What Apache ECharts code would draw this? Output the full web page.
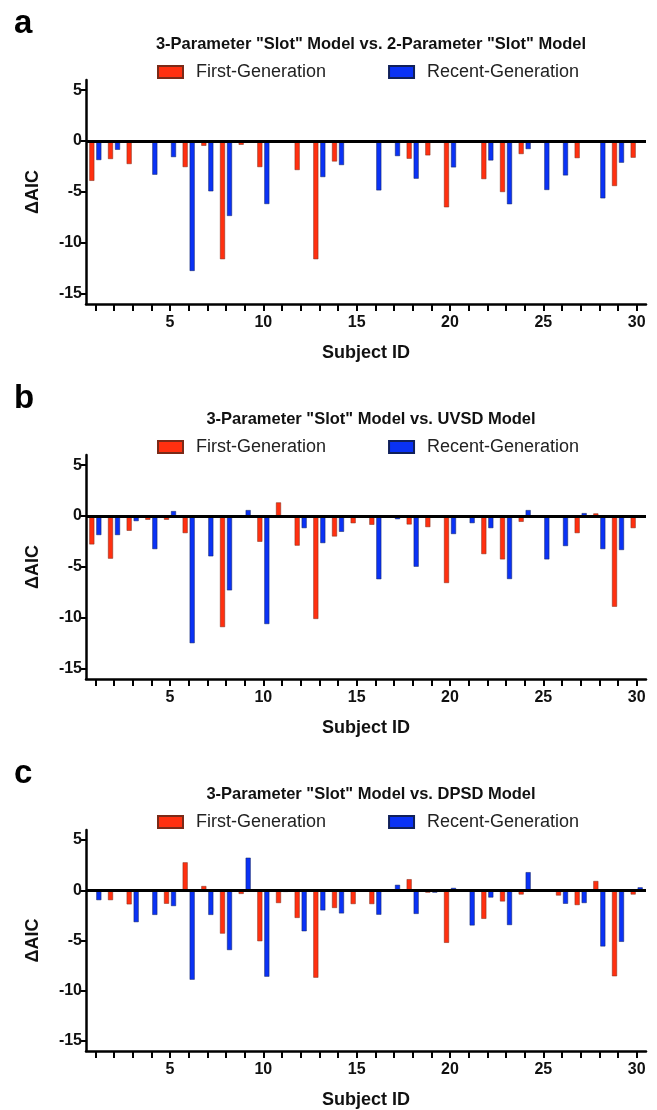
<!DOCTYPE html>
<html>
<head>
<meta charset="utf-8">
<script src="https://cdn.jsdelivr.net/npm/echarts@6/dist/echarts.min.js"></script>
<style>
  html, body { margin: 0; padding: 0; background: #fff; }
  #chart { width: 657px; height: 1110px; }
</style>
</head>
<body>
<div id="chart"></div>
<script>
// subjects on the x axis, ticks on the y axis
const subjectIds = ['1', '2', '3', '4', '5', '6', '7', '8', '9', '10',
  '11', '12', '13', '14', '15', '16', '17', '18', '19', '20',
  '21', '22', '23', '24', '25', '26', '27', '28', '29', '30'];
const yTicks = [-15, -10, -5, 0, 5];

const panelLetters = ['a', 'b', 'c'];
const panelTitles = [
  '3-Parameter "Slot" Model vs. 2-Parameter "Slot" Model',
  '3-Parameter "Slot" Model vs. UVSD Model',
  '3-Parameter "Slot" Model vs. DPSD Model',
];
const seriesNames = ['First-Generation', 'Recent-Generation'];

// delta AIC, panel a
const slotFirst = [-3.9, -1.76, -2.25, 0, 0, -2.55, -0.46, -11.6, -0.36, -2.55,
  0, -2.84, -11.6, -2.0, 0, 0, 0, -1.73, -1.4, -6.5,
  0, -3.73, -5.0, -1.27, 0, 0, -1.67, -0.1, -4.41, -1.63];
const slotRecent = [-1.86, -0.85, 0, -3.3, -1.57, -12.75, -4.93, -7.35, 0, -6.18,
  0, 0, -3.53, -2.35, 0, -4.84, -1.47, -3.69, 0, -2.58,
  0, -1.9, -6.2, -0.78, -4.8, -3.37, 0, -5.62, -2.12, 0];

// panel b
const uvsdFirst = [-2.78, -4.18, -1.44, -0.36, -0.36, -1.67, 0, -10.9, 0, -2.52,
  1.34, -2.9, -10.1, -2.0, -0.7, -0.85, 0, -0.82, -1.08, -6.57,
  0, -3.73, -4.25, -0.56, 0, 0, -1.67, 0.26, -8.9, -1.18];
const uvsdRecent = [-1.86, -1.86, -0.49, -3.24, 0.49, -12.48, -3.95, -7.29, 0.59, -10.6,
  0, -1.18, -2.65, -1.54, 0, -6.2, -0.3, -4.97, 0, -1.76,
  -0.69, -1.18, -6.18, 0.59, -4.25, -2.94, 0.29, -3.24, -3.33, 0];

// panel c
const dpsdFirst = [0, -0.98, -1.4, 0, -1.34, 2.78, 0.42, -4.31, -0.36, -5.07,
  -1.27, -2.75, -8.7, -1.76, -1.37, -1.37, 0, 1.1, -0.23, -5.23,
  0, -2.84, -1.11, -0.42, 0, -0.52, -1.47, 0.92, -8.56, -0.42];
const dpsdRecent = [-0.98, 0, -3.17, -2.45, -1.57, -8.9, -2.45, -5.95, 3.24, -8.6,
  -0.16, -4.08, -2.0, -2.3, 0, -2.43, 0.54, -2.35, -0.23, 0.23,
  -3.5, -0.72, -3.46, 1.8, 0, -1.34, -1.27, -5.59, -5.13, 0.29];

const panelData = [
  [slotFirst, slotRecent],
  [uvsdFirst, uvsdRecent],
  [dpsdFirst, dpsdRecent],
];

const RED = '#FF3010';
const BLUE = '#0A32F5';
const FONT = 'Liberation Sans, Arial, sans-serif';
const gridTops = [80, 455, 830];
const GRID_H = 224;

const chart = echarts.init(document.getElementById('chart'));

const titles = [];
const legends = [];
const grids = [];
const xAxes = [];
const yAxes = [];
const series = [];

panelLetters.forEach((letter, i) => {
  const top = gridTops[i];
  titles.push({
    text: letter,
    left: 9,
    top: top - 78,
    textStyle: { fontFamily: FONT, fontSize: 33, fontWeight: 'bold', color: '#000' },
  });
  titles.push({
    text: panelTitles[i],
    left: 366,
    textAlign: 'center',
    top: top - 49,
    textStyle: { fontFamily: FONT, fontSize: 16.5, fontWeight: 'bold', color: '#111' },
  });
  legends.push({
    data: seriesNames,
    left: 157,
    top: top - 17,
    padding: 0,
    icon: 'rect',
    itemWidth: 25,
    itemHeight: 12,
    itemGap: 62,
    selectedMode: false,
    textStyle: { fontFamily: FONT, fontSize: 18, color: '#222', padding: [0, 0, 0, 8] },
  });
  grids.push({ left: 86, right: 11, top: top, height: GRID_H });
  xAxes.push({
    type: 'category',
    gridIndex: i,
    data: subjectIds,
    axisLine: { onZero: false, lineStyle: { color: '#000', width: 2.5 } },
    axisTick: {
      show: true,
      interval: 0,
      alignWithLabel: true,
      length: 7,
      lineStyle: { color: '#000', width: 2 },
    },
    axisLabel: {
      interval: (idx) => (idx + 1) % 5 === 0,
      margin: 11,
      fontFamily: FONT,
      fontSize: 16,
      fontWeight: 'bold',
      color: '#111',
    },
    name: 'Subject ID',
    nameLocation: 'middle',
    nameGap: 40,
    nameTextStyle: { fontFamily: FONT, fontSize: 18, fontWeight: 'bold', color: '#111' },
    splitLine: { show: false },
  });
  yAxes.push({
    type: 'value',
    gridIndex: i,
    min: -16,
    max: 6,
    axisLine: { show: true, lineStyle: { color: '#000', width: 2.5 } },
    axisTick: { show: true, customValues: yTicks, length: 5, lineStyle: { color: '#000', width: 2 } },
    axisLabel: {
      customValues: yTicks,
      margin: 4,
      fontFamily: FONT,
      fontSize: 16,
      fontWeight: 'bold',
      color: '#111',
    },
    splitLine: { show: false },
    name: 'ΔAIC',
    nameLocation: 'middle',
    nameRotate: 90,
    nameGap: 44,
    nameTextStyle: { fontFamily: FONT, fontSize: 18, fontWeight: 'bold', color: '#111' },
  });
  const [firstVals, recentVals] = panelData[i];
  series.push({
    type: 'bar',
    name: seriesNames[0],
    xAxisIndex: i,
    yAxisIndex: i,
    data: firstVals,
    barWidth: 5,
    barGap: '40%',
    itemStyle: { color: RED, borderColor: '#7a2a18', borderWidth: 0.5 },
    markLine: {
      silent: true,
      symbol: 'none',
      label: { show: false },
      lineStyle: { color: '#000', width: 3, type: 'solid' },
      data: [{ yAxis: 0 }],
    },
  });
  series.push({
    type: 'bar',
    name: seriesNames[1],
    xAxisIndex: i,
    yAxisIndex: i,
    data: recentVals,
    barWidth: 5,
    barGap: '40%',
    itemStyle: { color: BLUE, borderColor: '#10205a', borderWidth: 0.5 },
  });
});

chart.setOption({
  animation: false,
  backgroundColor: '#fff',
  title: titles,
  legend: legends,
  grid: grids,
  xAxis: xAxes,
  yAxis: yAxes,
  series: series,
});
</script>
</body>
</html>
